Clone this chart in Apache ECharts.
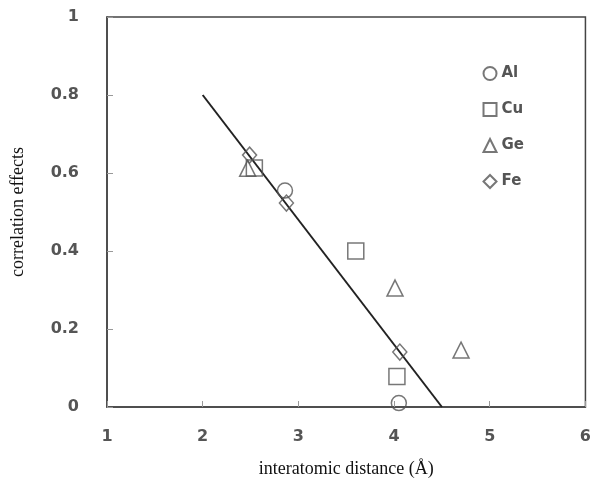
<!DOCTYPE html>
<html><head><meta charset="utf-8">
<script src="https://cdn.jsdelivr.net/npm/echarts@6/dist/echarts.min.js"></script>
<style>html,body{margin:0;padding:0;background:#fff}#c{width:594px;height:488px}</style>
</head><body><div id="c"></div>
<script>
var xTicks = [1, 2, 3, 4, 5, 6];
var yTicks = [0, 0.2, 0.4, 0.6, 0.8, 1];
var alData = [[2.86, 0.555], [4.05, 0.01]];
var cuData = [[2.54, 0.613], [3.6, 0.40], [4.03, 0.078]];
var geData = [[2.47, 0.612], [4.01, 0.305], [4.70, 0.146]];
var feData = [[2.49, 0.646], [2.875, 0.523], [4.06, 0.141]];
var fitLine = [[2.0, 0.8], [4.5, 0.0]];

var gray = '#555';
function sc(name, data, sym, size) {
  return {
    name: name, type: 'scatter', data: data, symbol: sym, symbolSize: size,
    itemStyle: { color: 'rgba(255,255,255,0)', borderColor: gray, borderWidth: 1.5 }
  };
}
var chart = echarts.init(document.getElementById('c'));
chart.setOption({
  animation: false,
  backgroundColor: '#fff',
  grid: { left: 107, right: 7, top: 17, bottom: 81, show: true, borderColor: '#444', borderWidth: 1.5, backgroundColor: 'transparent' },
  legend: {
    orient: 'vertical', right: 70, top: 66, itemGap: 21, itemWidth: 13, itemHeight: 13,
    textStyle: { color: gray, fontSize: 15, fontWeight: 'bold', fontFamily: 'DejaVu Sans' },
    data: ['Al', 'Cu', 'Ge', 'Fe'], padding: 0
  },
  xAxis: {
    type: 'value', min: 1, max: 6, interval: 1,
    name: 'interatomic distance (Å)', nameLocation: 'middle', nameGap: 53,
    nameTextStyle: { fontFamily: 'Liberation Serif', fontSize: 18, color: '#111' },
    axisLine: { show: true, onZero: false, lineStyle: { color: '#444', width: 1.5 } },
    axisTick: { show: true, inside: true, length: 6, lineStyle: { color: '#999' } },
    axisLabel: { color: gray, fontSize: 16, fontWeight: 'bold', fontFamily: 'DejaVu Sans', margin: 22, formatter: function (v) { return xTicks.indexOf(v) >= 0 ? String(v) : ''; } },
    splitLine: { show: false }
  },
  yAxis: {
    type: 'value', min: 0, max: 1, interval: 0.2,
    name: 'correlation effects', nameLocation: 'middle', nameGap: 80,
    nameTextStyle: { fontFamily: 'Liberation Serif', fontSize: 18, color: '#111' },
    axisLine: { show: true, lineStyle: { color: '#444', width: 1.5 } },
    axisTick: { show: true, inside: true, length: 6, lineStyle: { color: '#999' } },
    axisLabel: { color: gray, fontSize: 16, fontWeight: 'bold', fontFamily: 'DejaVu Sans', margin: 28,
      formatter: function (v) { var r = Math.round(v * 10) / 10; return yTicks.indexOf(r) >= 0 ? String(r) : ''; } },
    splitLine: { show: false }
  },
  series: [
    { name: 'fit', type: 'line', data: fitLine, symbol: 'none', lineStyle: { color: '#222', width: 2 }, z: 1 },
    sc('Al', alData, 'circle', 15),
    sc('Cu', cuData, 'rect', 16),
    sc('Ge', geData, 'triangle', 16),
    sc('Fe', feData, 'diamond', [14, 16])
  ]
});
</script></body></html>
